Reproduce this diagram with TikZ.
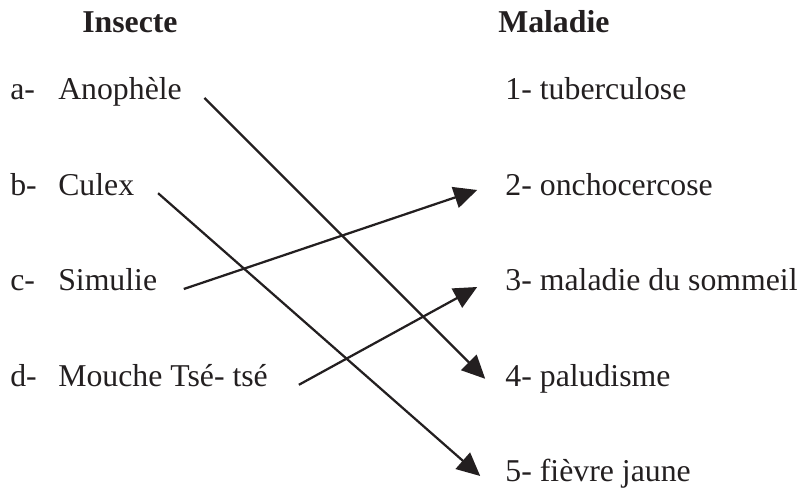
\documentclass[tikz,border=0pt]{standalone}
\usepackage{fontspec}
\setmainfont{Liberation Serif}
\usetikzlibrary{arrows.meta,calc}
\definecolor{Ink}{HTML}{231F20}
\tikzset{lbl/.style={anchor=base west,inner sep=0pt,font=\fontsize{22.6}{27}\selectfont,text=Ink},head/.style={lbl,font=\fontsize{22.6}{27}\selectfont\bfseries},link/.style={-{Triangle[length=5.8mm,width=5.4mm]},line width=1.6pt,draw=Ink}}
\begin{document}
\begin{tikzpicture}
\useasboundingbox (0,0) rectangle (20.15,12.25);
\node[head] (hi) at (2.05,11.425) {Insecte};
\node[head] (hm) at (12.45,11.425) {Maladie};
% insectes
\node[lbl] (ka) at (0.25,9.75) {a-};\node[lbl] (na) at (1.45,9.75) {Anophèle};
\node[lbl] (kb) at (0.25,7.36) {b-};\node[lbl] (nb) at (1.45,7.36) {Culex};
\node[lbl] (kc) at (0.25,4.975) {c-};\node[lbl] (nc) at (1.45,4.975) {Simulie};
\node[lbl] (kd) at (0.25,2.59) {d-};\node[lbl] (nd) at (1.45,2.59) {Mouche Tsé- tsé};
% maladies
\node[lbl] (m1) at (12.63,9.75) {1- tuberculose};
\node[lbl] (m2) at (12.63,7.36) {2- onchocercose};
\node[lbl] (m3) at (12.63,4.975) {3- maladie du sommeil};
\node[lbl] (m4) at (12.63,2.59) {4- paludisme};
\node[lbl] (m5) at (12.63,0.2) {5- fièvre jaune};
\draw[link] ([shift={(0.56,0.05)}]na.base east) -- ([shift={(-0.5,0.19)}]m4.base west);
\draw[link] ([shift={(0.59,0.06)}]nb.base east) -- ([shift={(-0.625,0.15)}]m5.base west);
\draw[link] ([shift={(0.66,0.05)}]nc.base east) -- ([shift={(-0.7,0.14)}]m2.base west);
\draw[link] ([shift={(0.77,0.04)}]nd.base east) -- ([shift={(-0.7,0.1)}]m3.base west);
\end{tikzpicture}
\end{document}
